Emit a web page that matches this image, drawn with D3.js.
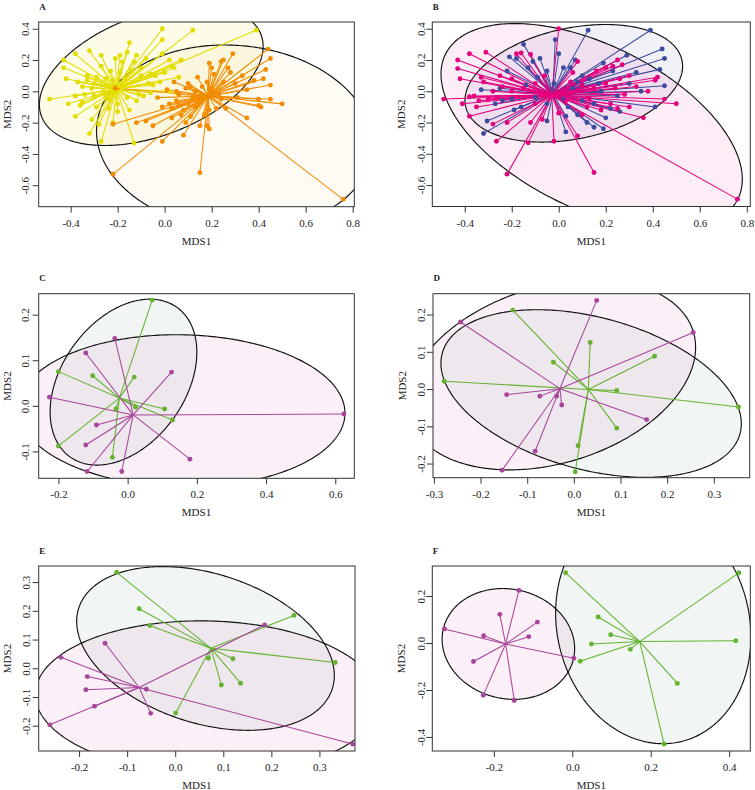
<!DOCTYPE html>
<html><head><meta charset="utf-8">
<script src="https://cdn.jsdelivr.net/npm/d3@7"></script>
<style>body{margin:0;background:#fff}svg{display:block}</style>
</head><body>
<svg id="chart" width="755" height="790"></svg>
<script>
// ---------------- DATA ----------------
const panelLabels = ["A", "B", "C", "D", "E", "F"];
const axisTitleX = "MDS1";
const axisTitleY = "MDS2";

// Panel A (yellow / orange)
const aYellowPts = [[-0.49,-0.05],[-0.43,0.20],[-0.43,0.15],[-0.42,0.08],[-0.41,-0.08],[-0.38,0.24],[-0.38,-0.03],[-0.38,-0.16],
 [-0.37,0.06],[-0.36,-0.09],[-0.35,-0.07],[-0.34,-0.02],[-0.33,0.10],[-0.32,-0.27],[-0.32,0.26],[-0.31,-0.18],[-0.30,-0.03],
 [-0.29,-0.10],[-0.28,-0.21],[-0.27,-0.32],[-0.27,0.23],[-0.25,0.04],[-0.24,-0.05],[-0.23,0.13],[-0.22,0.07],[-0.21,0.21],
 [-0.20,-0.08],[-0.19,0.23],[-0.18,0.02],[-0.16,0.25],[-0.15,0.31],[-0.13,-0.33],[-0.13,0.19],[-0.12,0.23],[-0.12,-0.06],
 [-0.10,0.10],[-0.09,-0.03],[-0.08,0.21],[-0.07,0.05],[-0.06,0.11],[-0.04,0.10],[-0.01,0.33],[-0.01,0.40],[-0.01,0.24],
 [0.02,0.20],[0.03,0.16],[0.04,0.15],[0.06,0.09],[0.07,0.20],[0.12,0.39],[0.39,0.39],[-0.26,0.00],[-0.22,-0.02],[-0.25,0.08],
 [-0.17,0.08],[-0.14,0.13],[-0.29,0.09],[-0.31,0.02],[-0.20,-0.13],[-0.24,-0.11],[-0.15,-0.12],[-0.11,-0.02],[-0.27,0.16],
 [-0.05,0.04],[-0.02,0.06],[-0.35,0.03],[-0.16,-0.04],[-0.19,0.12],[0.02,0.00],[0.05,-0.01],[-0.22,-0.20],[-0.10,0.15],
 [-0.30,0.05],[-0.06,-0.01],[0.00,0.12],[-0.18,0.19],[-0.33,0.07],[-0.25,-0.03]];
const aOrangePts = [[-0.22,-0.21],[-0.22,-0.53],[-0.12,-0.20],[-0.08,-0.19],[-0.05,-0.22],[-0.03,-0.04],[-0.01,-0.32],[0.01,0.01],
 [0.03,-0.17],[0.03,-0.11],[0.04,0.06],[0.05,0.00],[0.05,-0.06],[0.06,-0.09],[0.08,-0.28],[0.07,-0.15],[0.09,0.02],[0.11,0.03],
 [0.14,0.09],[0.15,-0.22],[0.15,-0.52],[0.19,-0.24],[0.18,-0.22],[0.19,0.18],[0.20,0.15],[0.24,0.19],[0.25,0.20],[0.26,-0.11],
 [0.28,0.12],[0.29,0.24],[0.30,0.05],[0.33,0.10],[0.35,-0.17],[0.38,0.07],[0.40,-0.05],[0.41,-0.10],[0.40,-0.09],[0.42,0.08],
 [0.43,0.14],[0.44,0.27],[0.45,0.21],[0.45,0.04],[0.45,-0.05],[0.50,-0.08],[0.76,-0.69],[0.35,0.01],[0.10,-0.08],[0.12,-0.04],
 [0.08,-0.12],[0.13,-0.10],[0.16,0.03],[0.17,-0.15],[0.22,-0.11],[0.25,0.06],[0.27,0.15],[0.21,0.11],[0.23,-0.02],[0.31,-0.04],
 [0.13,0.00],[0.06,-0.02],[0.02,-0.08],[-0.01,-0.10],[0.10,0.05],[0.14,-0.06],[0.18,0.06],[0.20,0.02],[0.24,-0.05],[0.11,-0.16],
 [0.09,-0.20],[0.19,-0.12],[-0.21,0.02]];
const aYellowCentroid = [-0.205, 0.015];
const aOrangeCentroid = [0.185, -0.03];
// ellipse: [centre x, centre y, half x-extent, half y-extent, cos(phase)]
const aYellowEllipse = [-0.057, 0.101, 0.476, 0.447, 0.417];
const aOrangeEllipse = [0.297, -0.297, 0.587, 0.593, -0.07];

// Panel B (blue / pink)
const bBluePts = [[-0.33,0.01],[-0.305,-0.19],[-0.32,-0.27],[-0.22,0.13],[-0.21,0.22],[-0.18,0.21],[-0.15,0.30],[-0.09,0.09],
 [-0.08,0.21],[-0.05,-0.19],[-0.015,0.33],[0.03,-0.26],[0.03,-0.16],[0.08,-0.15],[0.125,0.39],[0.39,0.39],[0.44,0.27],[0.45,0.21],
 [0.43,0.14],[0.45,0.035],[0.35,0.00],[0.41,-0.10],[0.29,0.23],[0.19,0.18],[0.20,-0.17],[0.15,-0.23],[0.22,-0.11],[-0.19,-0.12],
 [-0.25,0.02],[-0.27,-0.08],[-0.20,-0.05],[-0.14,0.04],[-0.13,0.15],[-0.11,0.19],[-0.05,0.13],[0.00,0.24],[0.02,0.15],[0.05,0.15],
 [0.07,0.20],[0.10,0.10],[0.13,0.08],[0.17,0.05],[0.06,0.02],[0.02,-0.05],[-0.05,-0.08],[0.10,-0.06],[0.15,-0.08],[0.25,-0.03],
 [0.30,0.05],[0.33,0.12],[0.23,0.13],[-0.02,0.05],[0.04,-0.10],[-0.16,-0.10],[-0.24,-0.06],[0.12,-0.20],[0.18,0.00],[0.26,-0.13],
 [-0.10,-0.04],[0.08,0.06],[0.19,-0.24]];
const bPinkPts = [[-0.49,-0.05],[-0.43,0.20],[-0.43,0.145],[-0.42,0.08],[-0.41,-0.08],[-0.38,0.24],[-0.38,-0.035],[-0.38,-0.16],
 [-0.35,-0.10],[-0.36,-0.03],[-0.31,0.25],[-0.32,0.06],[-0.33,0.09],[-0.34,-0.06],[-0.28,-0.21],[-0.265,-0.32],[-0.30,-0.05],
 [-0.28,0.00],[-0.26,-0.04],[-0.24,0.03],[-0.22,-0.53],[-0.22,-0.20],[-0.25,0.10],[-0.20,0.00],[-0.18,0.24],[-0.16,0.245],
 [-0.12,0.235],[-0.13,-0.33],[-0.12,-0.20],[-0.07,-0.18],[-0.02,-0.32],[0.00,0.40],[0.00,-0.14],[0.08,-0.285],[0.08,0.19],
 [0.15,-0.52],[0.25,0.20],[0.27,0.17],[0.23,0.16],[0.30,0.10],[0.26,0.08],[0.36,-0.17],[0.41,0.07],[0.42,0.09],[0.45,-0.05],
 [0.50,-0.08],[0.76,-0.69],[0.20,0.05],[0.15,0.02],[0.10,0.04],[0.12,-0.10],[0.18,-0.12],[0.22,-0.08],[0.28,-0.02],[0.33,0.03],
 [0.06,0.12],[0.03,-0.06],[-0.10,0.05],[-0.15,0.02],[-0.20,0.08],[-0.10,-0.08],[-0.06,0.10],[0.05,0.06],[0.13,-0.05],[0.25,-0.11],
 [0.16,0.13],[0.24,0.02],[0.38,0.00],[0.10,-0.15],[0.30,-0.10],[0.20,0.15]];
const bBlueCentroid = [-0.025, -0.015];
const bPinkCentroid = [-0.03, -0.025];
const bBlueEllipse = [0.064, 0.051, 0.463, 0.376, 0.29];
const bPinkEllipse = [0.140, -0.226, 0.641, 0.659, -0.51];

// Panel C (green / purple)
const cGreenPts = [[0.071,0.232],[-0.200,0.075],[-0.101,0.066],[0.019,0.063],[-0.034,-0.007],[0.023,-0.003],[0.107,-0.007],[0.130,-0.031],[-0.200,-0.088],[-0.044,-0.113]];
const cPurplePts = [[-0.037,0.148],[-0.121,0.116],[0.127,0.074],[-0.226,0.019],[-0.090,-0.042],[-0.121,-0.086],[-0.117,-0.144],[-0.017,-0.144],[0.180,-0.117],[0.625,-0.018]];
const cGreenCentroid = [-0.024, 0.017];
const cPurpleCentroid = [0.016, -0.020];
const cGreenEllipse = [-0.012, 0.052, 0.212, 0.182, 0.36];
const cPurpleEllipse = [0.156, -0.011, 0.472, 0.167, -0.03];

// Panel D
const dGreenPts = [[-0.131,0.212],[0.035,0.125],[-0.044,0.072],[0.173,0.088],[-0.278,0.021],[0.092,-0.004],[0.353,-0.048],[0.092,-0.105],[0.009,-0.152],[0.003,-0.222]];
const dPurplePts = [[0.049,0.238],[-0.243,0.180],[0.256,0.152],[-0.144,-0.015],[-0.073,-0.019],[-0.037,-0.019],[-0.026,-0.043],[0.156,-0.082],[-0.083,-0.167],[-0.154,-0.218]];
const dGreenCentroid = [0.031, -0.001];
const dPurpleCentroid = [-0.030, 0.001];
const dGreenEllipse = [0.037, -0.012, 0.322, 0.225, -0.36];
const dPurpleEllipse = [-0.048, 0.038, 0.309, 0.255, 0.29];

// Panel E
const eGreenPts = [[-0.122,0.334],[-0.075,0.207],[-0.053,0.149],[0.247,0.184],[0.069,0.035],[0.120,0.033],[0.333,0.020],[0.096,-0.058],[0.136,-0.052],[0.001,-0.156]];
const ePurplePts = [[-0.146,0.087],[-0.238,0.038],[-0.183,-0.029],[-0.186,-0.075],[-0.168,-0.132],[-0.261,-0.197],[-0.060,-0.073],[-0.051,-0.157],[0.186,0.151],[0.369,-0.264]];
const eGreenCentroid = [0.074, 0.070];
const ePurpleCentroid = [-0.075, -0.067];
const eGreenEllipse = [0.063, 0.069, 0.268, 0.285, -0.33];
const ePurpleEllipse = [0.067, -0.102, 0.358, 0.267, -0.04];

// Panel F
const fGreenPts = [[-0.017,0.299],[0.425,0.299],[0.066,0.111],[0.098,0.035],[0.049,-0.004],[0.148,-0.027],[0.417,0.010],[0.020,-0.078],[0.268,-0.172],[0.234,-0.430]];
const fPurplePts = [[-0.326,0.060],[-0.226,0.031],[-0.185,0.122],[-0.136,0.224],[-0.089,0.089],[-0.111,0.027],[-0.252,-0.079],[0.004,-0.065],[-0.227,-0.223],[-0.148,-0.245]];
const fGreenCentroid = [0.172, 0.006];
const fPurpleCentroid = [-0.170, -0.004];
const fGreenEllipse = [0.2065, 0.077, 0.249, 0.506, -0.10];
const fPurpleEllipse = [-0.163, -0.004, 0.169, 0.236, -0.085];

// Axis limits and tick labels
const xLimits = [[-0.536,0.807],[-0.538,0.815],[-0.257,0.655],[-0.302,0.377],[-0.284,0.374],[-0.357,0.454]];
const yLimits = [[-0.737,0.443],[-0.737,0.443],[-0.159,0.246],[-0.238,0.256],[-0.288,0.356],[-0.46,0.328]];
const xTickVals = [[-0.4,-0.2,0,0.2,0.4,0.6,0.8],[-0.4,-0.2,0,0.2,0.4,0.6,0.8],[-0.2,0,0.2,0.4,0.6],[-0.3,-0.2,-0.1,0,0.1,0.2,0.3],[-0.2,-0.1,0,0.1,0.2,0.3],[-0.2,0,0.2,0.4]];
const yTickVals = [[-0.6,-0.4,-0.2,0,0.2,0.4],[-0.6,-0.4,-0.2,0,0.2,0.4],[-0.1,0,0.1,0.2],[-0.2,-0.1,0,0.1,0.2],[-0.2,-0.1,0,0.1,0.2,0.3],[-0.4,-0.2,0,0.2]];

// ---------------- STYLE / LAYOUT ----------------
const yellow = "#e3dd00", orange = "#f28c00", blue = "#3c4b9f", pink = "#e4007d", green = "#64b22e", purple = "#a8449b";
const greenFill = "#78aa96", purpleFill = "#d23caa";
const groupsByPanel = [
  [{pts:aYellowPts,c:aYellowCentroid,e:aYellowEllipse,col:yellow,fill:yellow,fo:0.09},{pts:aOrangePts,c:aOrangeCentroid,e:aOrangeEllipse,col:orange,fill:orange,fo:0.045}],
  [{pts:bBluePts,c:bBlueCentroid,e:bBlueEllipse,col:blue,fill:blue,fo:0.07},{pts:bPinkPts,c:bPinkCentroid,e:bPinkEllipse,col:pink,fill:pink,fo:0.07}],
  [{pts:cGreenPts,c:cGreenCentroid,e:cGreenEllipse,col:green,fill:greenFill,fo:0.1},{pts:cPurplePts,c:cPurpleCentroid,e:cPurpleEllipse,col:purple,fill:purpleFill,fo:0.08}],
  [{pts:dGreenPts,c:dGreenCentroid,e:dGreenEllipse,col:green,fill:greenFill,fo:0.1},{pts:dPurplePts,c:dPurpleCentroid,e:dPurpleEllipse,col:purple,fill:purpleFill,fo:0.08}],
  [{pts:eGreenPts,c:eGreenCentroid,e:eGreenEllipse,col:green,fill:greenFill,fo:0.1},{pts:ePurplePts,c:ePurpleCentroid,e:ePurpleEllipse,col:purple,fill:purpleFill,fo:0.08}],
  [{pts:fGreenPts,c:fGreenCentroid,e:fGreenEllipse,col:green,fill:greenFill,fo:0.1},{pts:fPurplePts,c:fPurpleCentroid,e:fPurpleEllipse,col:purple,fill:purpleFill,fo:0.08}]
];

const boxes = [
  {x0:38.7, x1:354.3, y0:22, y1:206.7, lab:9.5},
  {x0:432.3, x1:750.3, y0:22, y1:206.5, lab:7.5},
  {x0:38.7, x1:354.3, y0:293.7, y1:478.3, lab:9.5},
  {x0:433, x1:749.7, y0:293.7, y1:477.7, lab:7.8},
  {x0:38.7, x1:355, y0:566, y1:751, lab:9},
  {x0:432.3, x1:750.3, y0:566, y1:751, lab:7.6}
];
const FONT = "'Liberation Serif','Times New Roman',Times,serif";
const svg = d3.select("#chart");
const fmt = d => (Math.abs(d) < 1e-9 ? 0 : d).toFixed(1);

boxes.forEach((b, i) => {
  const x = d3.scaleLinear().domain(xLimits[i]).range([b.x0, b.x1]);
  const y = d3.scaleLinear().domain(yLimits[i]).range([b.y1, b.y0]);
  const g = svg.append("g");
  const clipId = "clip" + i;
  svg.append("clipPath").attr("id", clipId).append("rect")
    .attr("x", b.x0).attr("y", b.y0).attr("width", b.x1 - b.x0).attr("height", b.y1 - b.y0);
  const plot = g.append("g").attr("clip-path", `url(#${clipId})`);
  const groups = groupsByPanel[i];

  const ellPath = e => {
    const [cx, cy, rx, ry, k] = e;
    const del = Math.acos(k);
    const pts = d3.range(0, 361).map(a => {
      const t = a * Math.PI / 180;
      return [x(cx + rx * Math.cos(t)), y(cy + ry * Math.cos(t - del))];
    });
    return d3.line()(pts) + "Z";
  };
  groups.forEach(gr => {
    plot.append("path").attr("d", ellPath(gr.e)).attr("fill", gr.fill).attr("fill-opacity", gr.fo).attr("stroke", "none");
  });
  groups.forEach(gr => {
    plot.append("path").attr("d", ellPath(gr.e)).attr("fill", "none").attr("stroke", "#111").attr("stroke-width", 1.15);
  });
  groups.forEach(gr => {
    plot.append("g").selectAll("line").data(gr.pts).join("line")
      .attr("x1", x(gr.c[0])).attr("y1", y(gr.c[1]))
      .attr("x2", d => x(d[0])).attr("y2", d => y(d[1]))
      .attr("stroke", gr.col).attr("stroke-width", 1.05);
  });
  groups.forEach(gr => {
    plot.append("g").selectAll("circle").data(gr.pts).join("circle")
      .attr("cx", d => x(d[0])).attr("cy", d => y(d[1])).attr("r", 2.45).attr("fill", gr.col);
  });

  g.append("rect").attr("x", b.x0).attr("y", b.y0).attr("width", b.x1 - b.x0).attr("height", b.y1 - b.y0)
    .attr("fill", "none").attr("stroke", "#333").attr("stroke-width", 1);

  const xa = g.append("g").attr("transform", `translate(0,${b.y1})`)
    .call(d3.axisBottom(x).tickValues(xTickVals[i]).tickFormat(fmt).tickSize(6).tickSizeOuter(0));
  xa.select(".domain").remove();
  xa.selectAll("line").attr("stroke", "#333");
  xa.selectAll("text").attr("y", 20).attr("dy", 0).attr("font-family", FONT).attr("font-size", 11).attr("fill", "#222");

  const ya = g.append("g").attr("transform", `translate(${b.x0},0)`)
    .call(d3.axisLeft(y).tickValues(yTickVals[i]).tickFormat(fmt).tickSize(6).tickSizeOuter(0));
  ya.select(".domain").remove();
  ya.selectAll("line").attr("stroke", "#333");
  ya.selectAll("text").attr("x", 0).attr("y", -b.lab).attr("dy", 0).attr("text-anchor", "middle")
    .attr("transform", "rotate(-90)").attr("font-family", FONT).attr("font-size", 11).attr("fill", "#222");

  g.append("text").attr("x", (b.x0 + b.x1) / 2).attr("y", b.y1 + 38).attr("text-anchor", "middle")
    .attr("font-family", FONT).attr("font-size", 11).attr("fill", "#222").text(axisTitleX);
  g.append("text").attr("transform", `translate(${b.x0 - 27.5},${(b.y0 + b.y1) / 2}) rotate(-90)`)
    .attr("text-anchor", "middle").attr("font-family", FONT).attr("font-size", 11).attr("fill", "#222").text(axisTitleY);
  g.append("text").attr("x", b.x0 + 0.5).attr("y", b.y0 - 12.5)
    .attr("font-family", FONT).attr("font-size", 9).attr("font-weight", "bold").attr("fill", "#222").text(panelLabels[i]);
});
</script>
</body></html>
